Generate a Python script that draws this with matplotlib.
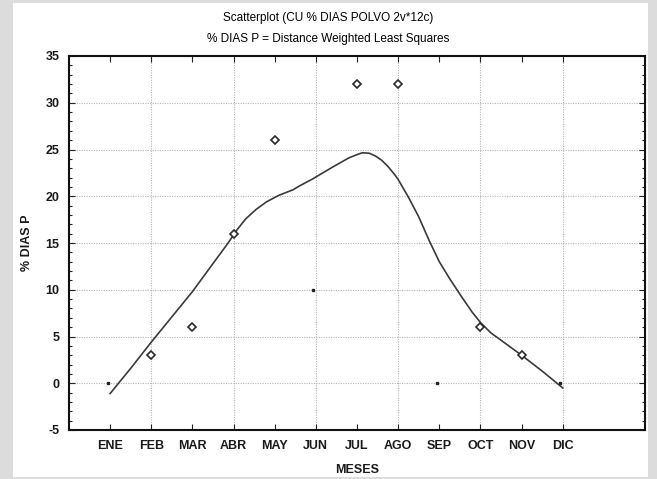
import matplotlib
matplotlib.use("Agg")
import matplotlib.pyplot as plt
import numpy as np
from matplotlib.patches import Rectangle

# data
months = ["ENE", "FEB", "MAR", "ABR", "MAY", "JUN", "JUL", "AGO", "SEP", "OCT", "NOV", "DIC"]
dias_p = [0, 3, 6, 16, 26, 10, 32, 32, 0, 6, 3, 0]

# distance weighted least squares curve
fit_x = [1.0, 1.5, 2.0, 2.5, 3.0, 3.5, 3.85, 4.1, 4.3, 4.55, 4.8, 5.1, 5.45, 5.6, 5.9,
         6.4, 6.8, 7.0, 7.13, 7.3, 7.45, 7.6, 7.75, 7.9, 8.0, 8.25, 8.5, 8.75, 9.0,
         9.25, 9.55, 9.8, 10.0, 10.25, 10.5, 11.0, 11.5, 12.0]
fit_y = [-1.1, 1.6, 4.4, 7.1, 9.8, 12.8, 14.9, 16.5, 17.6, 18.6, 19.4, 20.1, 20.7, 21.1, 21.8,
         23.1, 24.1, 24.45, 24.65, 24.6, 24.3, 23.85, 23.2, 22.4, 21.8, 19.9, 17.8, 15.3, 13.0,
         11.2, 9.2, 7.6, 6.5, 5.4, 4.6, 3.0, 1.3, -0.5]

plt.rcParams["font.family"] = ["Liberation Sans", "DejaVu Sans"]
plt.rcParams["axes.unicode_minus"] = False

fig = plt.figure(figsize=(6.57, 4.79), dpi=100)
fig.patch.set_facecolor("#dcdcdc")
fig.patches.append(Rectangle((13 / 657, 2 / 479), 635 / 657, 474 / 479,
                             transform=fig.transFigure, facecolor="white",
                             edgecolor="none", zorder=-10))

ax = fig.add_axes([69 / 657, 1 - 430 / 479, 576 / 657, 374 / 479])
ax.set_facecolor("white")

x = np.arange(1, len(months) + 1)

# grid
for gx in np.arange(2, 14, 2):
    ax.axvline(gx, color="#b4b4b4", lw=0.8, ls=(0, (1, 1.2)), zorder=1)
for gy in np.arange(0, 35, 5):
    ax.axhline(gy, color="#b4b4b4", lw=0.8, ls=(0, (1, 1.2)), zorder=1)

ax.plot(fit_x, fit_y, color="#3a3a3a", lw=1.2, zorder=3)

small = np.isin(months, ["ENE", "JUN", "SEP", "DIC"])
vals = np.array(dias_p, dtype=float)
ax.plot(x[~small], vals[~small], ls="none", marker="D", ms=4.3, mfc="white",
        mec="#2a2a2a", mew=1.2, zorder=4)
ax.plot(x[small] - 0.06, vals[small], ls="none", marker="s", ms=2.0, mfc="#222222",
        mec="#222222", zorder=4)

ax.set_xlim(0, 14)
ax.set_ylim(-5, 35)
ax.set_xticks(x)
ax.set_xticklabels(months)
ax.set_yticks(np.arange(-5, 36, 5))
ax.set_yticks(np.arange(-5, 36, 1), minor=True)
ax.tick_params(axis="both", which="both", direction="in", top=True, right=True,
               width=0.8, color="#222222")
ax.tick_params(axis="both", which="major", length=4, labelsize=9, pad=7)
ax.tick_params(axis="both", which="minor", length=2.5)
for lab in ax.get_xticklabels() + ax.get_yticklabels():
    lab.set_fontweight("bold")
    lab.set_color("#1a1a1a")
for s in ax.spines.values():
    s.set_linewidth(1.5)
    s.set_color("#111111")

ax.set_xlabel("MESES", fontsize=9, fontweight="bold", labelpad=9, color="#1a1a1a")
ax.set_ylabel("% DIAS P", fontsize=9, fontweight="bold", labelpad=9, color="#1a1a1a")

fig.text(0.5, 1 - 18 / 479, "Scatterplot (CU % DIAS POLVO 2v*12c)", ha="center",
         va="center", fontsize=8.5)
fig.text(0.5, 1 - 39 / 479, "% DIAS P = Distance Weighted Least Squares", ha="center",
         va="center", fontsize=8.5)

fig.savefig("out.png", dpi=100, facecolor=fig.get_facecolor())
